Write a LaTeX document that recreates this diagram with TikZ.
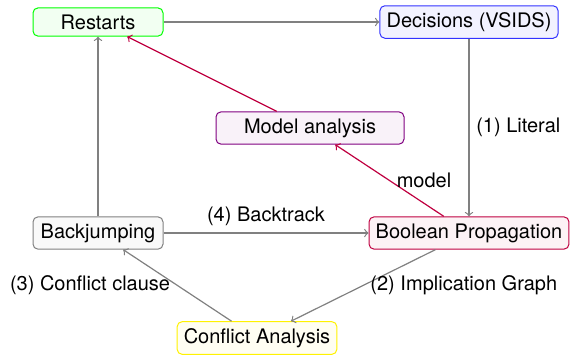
\documentclass[tikz,border=0pt]{standalone}
\usepackage{fontspec}
\setmainfont{TeX Gyre Heros}
\begin{document}
\begin{tikzpicture}[x=0.5pt,y=-0.5pt,
  box/.style={draw, line width=0.5pt, rounded corners=2.5pt, minimum width=65pt, font=\fontsize{10}{12}\selectfont},
  lab/.style={font=\fontsize{10}{12}\selectfont},
  gedge/.style={draw=gray, line width=0.6pt, ->},
  redge/.style={draw=purple, line width=0.6pt, ->}]
\useasboundingbox (0,0) rectangle (571,355);
\node[box, draw=green, fill=green!5] (rs) at (98,22) {Restarts};
\node[box, draw=blue!80, fill=blue!5] (dec) at (469,22) {Decisions (VSIDS)};
\node[box, draw=violet, fill=violet!5, minimum width=94pt] (ma) at (310,128) {Model analysis};
\node[box, draw=purple, fill=purple!5] (bp) at (469,233) {Boolean Propagation};
\node[box, draw=gray, fill=gray!5] (bj) at (98,233) {Backjumping};
\node[box, draw=yellow, fill=yellow!5] (ca) at (257,338) {Conflict Analysis};
\draw[gedge] (rs) -- (dec);
\draw[gedge] (dec) -- node[lab, midway, right] {(1) Literal} (bp);
\draw[gedge] (bp) -- node[lab, midway, right] {(2) Implication Graph} (ca);
\draw[gedge] (ca) -- node[lab, midway, left] {(3) Conflict clause} (bj);
\draw[gedge] (bj) -- node[lab, midway, above] {(4) Backtrack} (bp);
\draw[gedge] (bj) -- (rs);
\draw[redge] (bp) -- node[lab, midway, right] {model} (ma);
\draw[redge] (ma) -- (rs);
\end{tikzpicture}
\end{document}
